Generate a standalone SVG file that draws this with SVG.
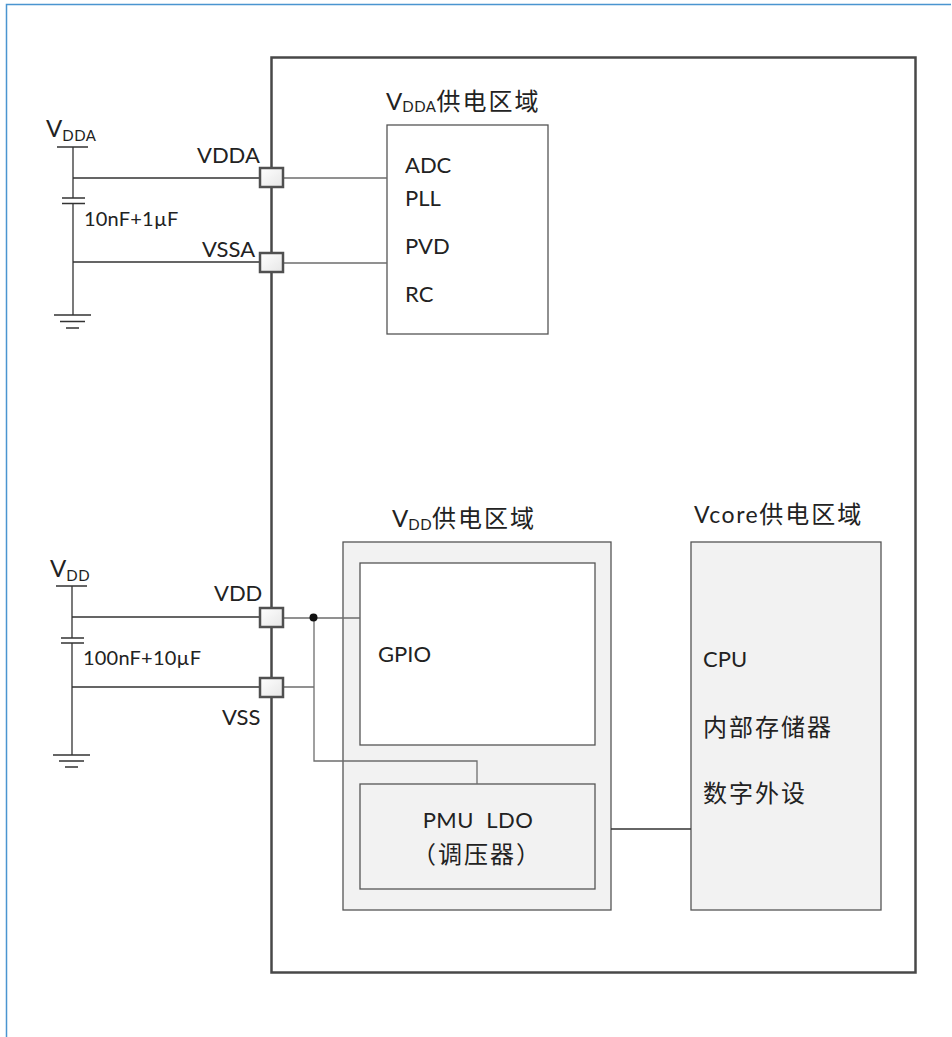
<svg xmlns="http://www.w3.org/2000/svg" width="952" height="1037" viewBox="0 0 952 1037">
<defs><linearGradient id="pinfill" x1="0" y1="0" x2="1" y2="1"><stop offset="0" stop-color="#ffffff"/><stop offset="1" stop-color="#e6e6e6"/></linearGradient></defs>
<style>
text{font-family:"Lato","Noto Sans CJK SC",sans-serif;font-size:22px;fill:#222;white-space:pre}
.head{font-size:24px}
.sub{font-size:15px}
.cap{font-size:20px;letter-spacing:.2px}
.cjk{font-size:24px;letter-spacing:2px}
.w{fill:none;stroke:#333;stroke-width:1.3}
.g{fill:none;stroke:#6e6e6e;stroke-width:1.3}
.pin{fill:url(#pinfill);stroke:#505050;stroke-width:2.5}
.box{fill:#fff;stroke:#555;stroke-width:1.3}
.fill{fill:#f2f2f2;stroke:#555;stroke-width:1.3}
</style>
<path d="M951 4.5H6.5V1037" fill="none" stroke="#4a95d0" stroke-width="1.5"/>
<g id="chip"><rect x="271.500" y="57.500" width="644" height="915" fill="#fff" stroke="#484848" stroke-width="2.500"/></g>
<g id="vdda-domain">
<rect x="387" y="125" width="161" height="209" class="box"/>
<text x="386" y="110" class="head">V<tspan class="sub" dy="2" letter-spacing="0.5">DDA</tspan><tspan class="cjk" dy="-2">供电区域</tspan></text>
<text x="405" y="173">ADC</text><text x="405" y="206">PLL</text><text x="405" y="254">PVD</text><text x="405" y="302">RC</text>
</g>
<g id="vdd-domain">
<rect x="343" y="542" width="268" height="368" class="fill"/>
<text x="392" y="527" class="head">V<tspan class="sub" dy="3" letter-spacing="0.5">DD</tspan><tspan class="cjk" dy="-3">供电区域</tspan></text>
<rect x="360" y="563" width="235" height="182" class="box"/>
<text x="378" y="662">GPIO</text>
<rect x="360" y="784" width="235" height="105" class="fill"/>
<text x="478" y="828" text-anchor="middle" letter-spacing="0.5">PMU  LDO</text>
<text x="477" y="863" text-anchor="middle" class="cjk">（调压器）</text>
</g>
<g id="vcore-domain">
<rect x="691" y="542" width="190" height="368" class="fill"/>
<text x="694" y="523" letter-spacing="1.500" style="font-size:23px">Vcore<tspan class="cjk">供电区域</tspan></text>
<text x="703" y="667">CPU</text><text x="703" y="736" class="cjk">内部存储器</text><text x="703" y="802" class="cjk">数字外设</text>
</g>
<g id="connectors">
<path class="w" d="M73 147V198M73 203V315M73 178H260M73 262H260"/>
<path class="w" d="M57 147H88M62 198H85M62 203.500H85M54 315H91M60 321.500H85M66 328H79"/>
<path class="g" d="M284 178H387M284 263H387"/>
<path class="w" d="M72 586V638M72 643V755M72 617H260M72 687H260"/>
<path class="w" d="M56 586H87M61 638H84M61 643H84M53 755H90M59 761H84M65 767H78"/>
<path class="g" d="M284 618H360M284 687H314M314 618V761H477V784"/>
<path class="w" d="M611 829H691"/>
<circle cx="313.500" cy="617.500" r="4" fill="#111"/>
</g>
<g id="pin-vdda"><rect x="260" y="168" width="23" height="19" class="pin"/><text x="197" y="163">VDDA</text></g>
<g id="pin-vssa"><rect x="260" y="253" width="23" height="19" class="pin"/><text x="202" y="257">VSSA</text></g>
<g id="pin-vdd"><rect x="260" y="608" width="23" height="19" class="pin"/><text x="214" y="601">VDD</text></g>
<g id="pin-vss"><rect x="260" y="678" width="23" height="19" class="pin"/><text x="222" y="725">VSS</text></g>
<g id="vdda-source"><text x="46" y="137" class="head">V<tspan class="sub" dy="4" letter-spacing="0.5">DDA</tspan></text><text x="84" y="226" class="cap">10nF+1µF</text></g>
<g id="vdd-source"><text x="50" y="577" class="head">V<tspan class="sub" dy="4" letter-spacing="0.5">DD</tspan></text><text x="83" y="665" class="cap">100nF+10µF</text></g>
</svg>
